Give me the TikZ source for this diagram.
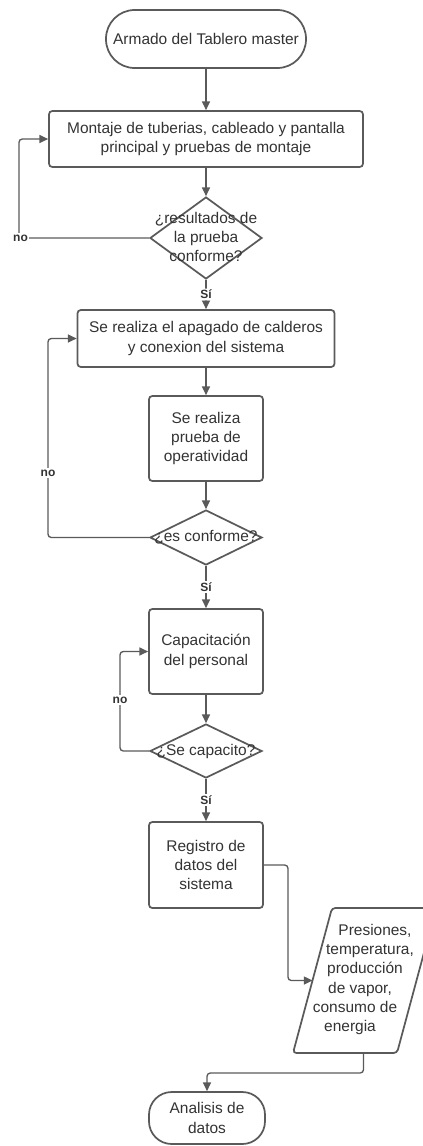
\documentclass[tikz,border=0pt]{standalone}
\usepackage{fontspec}
\setmainfont{Liberation Sans}
\usetikzlibrary{arrows.meta,shapes.geometric}
\definecolor{ln}{HTML}{5A5A5A}
\definecolor{tx}{HTML}{333333}
\begin{document}
\begin{tikzpicture}[x=0.75pt,y=-0.75pt,
 every node/.style={text=tx,font=\fontsize{11.6pt}{14.4pt}\selectfont},
 proc/.style={draw=ln,line width=1.3pt,rounded corners=2.5pt,align=center,inner sep=0pt},
 termbox/.style={draw=ln,line width=1.3pt,align=center,inner sep=0pt},
 dec/.style={draw=ln,line width=1.3pt,diamond,inner sep=0pt},
 iobox/.style={draw=ln,line width=1.3pt,rounded corners=2.5pt},
 conn/.style={draw=ln,line width=1pt,-{Triangle[length=6.5pt,width=6pt]},rounded corners=2.5pt},
 lbl/.style={fill=white,inner sep=1pt,font=\fontsize{9pt}{10pt}\selectfont\bfseries}]
\useasboundingbox (0,0) rectangle (423,1146);
\clip (0,0) rectangle (423,1146);
\node[termbox,rounded corners=21.5pt,minimum width=150pt,minimum height=43.5pt] (start) at (206,39) {Armado del Tablero master};
\node[proc,minimum width=235.5pt,minimum height=42pt] (b1) at (206,139) {Montaje de tuberias, cableado y pantalla\\principal y pruebas de montaje};
\node[dec,minimum width=84pt,minimum height=61.5pt] (d1) at (206,238) {};
\node[align=center] (t1) at (206,237) {¿resultados de\\la prueba\\conforme?};
\node[proc,minimum width=192.75pt,minimum height=42.75pt] (b2) at (206,338.5) {Se realiza el apagado de calderos\\y conexion del sistema};
\node[proc,minimum width=85.5pt,minimum height=63.75pt] (b3) at (206,438.5) {Se realiza\\prueba de\\operatividad};
\node[dec,minimum width=84pt,minimum height=41.25pt] (d2) at (206,537.5) {};
\node (t2) at (206,537) {¿es conforme?};
\node[proc,minimum width=85.5pt,minimum height=63.75pt] (b4) at (206,651.5) {Capacitación\\del personal};
\node[dec,minimum width=84pt,minimum height=40.5pt] (d3) at (206,751) {};
\node (t3) at (206,751) {¿Se capacito?};
\node[proc,minimum width=85.5pt,minimum height=64.5pt] (b5) at (206,865) {Registro de\\datos del\\sistema};
% parallelogram (input/output)
\coordinate (pbl) at (293,1053);
\coordinate (pbr) at (397,1053);
\coordinate (ptr) at (436,908);
\coordinate (ptl) at (332,908);
\coordinate (pw) at (312.5,980.5);
\coordinate (ps) at (363.5,1053);
\draw[iobox] (pbl) -- (pbr) -- (ptr) -- (ptl) -- cycle;
\node[align=center] (tp) at (362.5,979.5) {\kern18.75pt Presiones,\\\kern11.25pt temperatura,\\\kern3.75pt producción\\\kern-3.75pt de vapor,\\\kern-11.25pt consumo de\\\kern-18.75pt energia};
\node[termbox,rounded corners=17pt,minimum width=87pt,minimum height=39pt] (end) at (207,1118) {Analisis de\\datos};
% connectors
\draw[conn] (start.south) -- (b1.north);
\draw[conn] (b1.south) -- (d1.north);
\draw[conn] (d1.south) -- node[lbl]{Sí} (b2.north);
\draw[conn] (b2.south) -- (b3.north);
\draw[conn] (b3.south) -- (d2.north);
\draw[conn] (d2.south) -- node[lbl]{Sí} (b4.north);
\draw[conn] (b4.south) -- (d3.north);
\draw[conn] (d3.south) -- node[lbl]{Sí} (b5.north);
\coordinate (n1) at (19,238);
\draw[conn] (d1.west) -- (n1) |- (b1.west);
\node[lbl] (no1) at (20.5,238) {no};
\coordinate (n2) at (48,537.5);
\draw[conn] (d2.west) -- (n2) |- (b2.west);
\node[lbl] (no2) at (48,473) {no};
\coordinate (n3) at (120,751);
\draw[conn] (d3.west) -- (n3) |- (b4.west);
\node[lbl] (no3) at (120,700) {no};
\coordinate (r5) at (288,865);
\draw[conn] (b5.east) -- (r5) |- (pw);
\coordinate (pe) at (363.5,1073);
\draw[conn] (ps) -- (pe) -| (end.north);
\end{tikzpicture}
\end{document}
